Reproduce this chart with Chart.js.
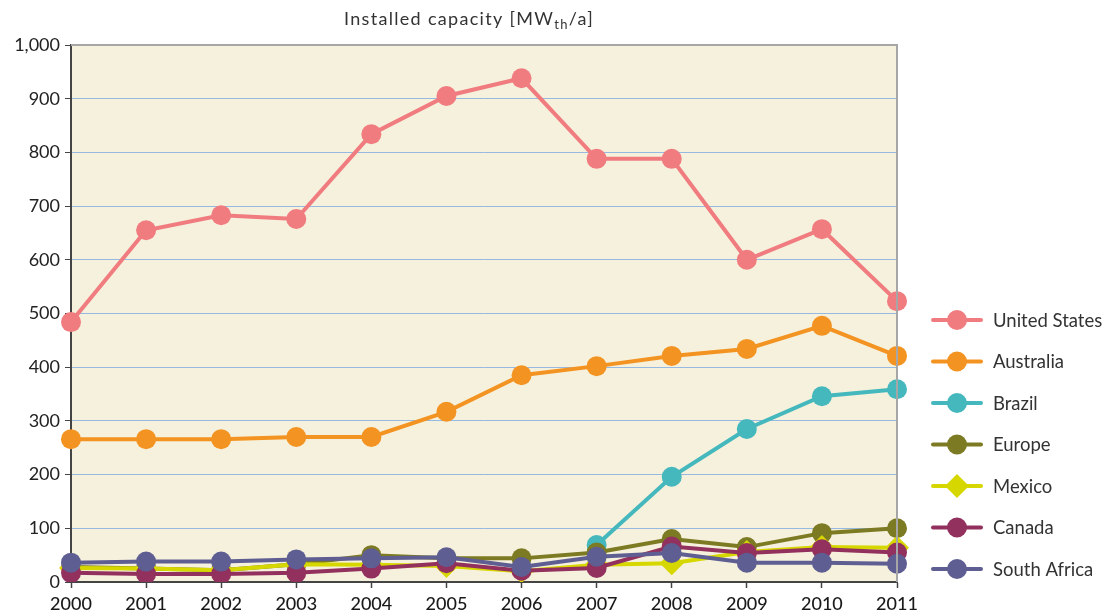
<!DOCTYPE html>
<html><head><meta charset="utf-8">
<script src="https://cdn.jsdelivr.net/npm/chart.js@4/dist/chart.umd.min.js"></script>
<style>html,body{margin:0;padding:0;background:#fff}#wrap{width:1112px;height:614px;position:relative}</style>
</head><body><div id="wrap"><canvas id="c"></canvas></div>
<script>
const years = ['2000','2001','2002','2003','2004','2005','2006','2007','2008','2009','2010','2011'];
const yTicks = [0,100,200,300,400,500,600,700,800,900,1000];
const seriesNames = ['United States','Australia','Brazil','Europe','Mexico','Canada','South Africa'];
const unitedStates = [484,655,683,676,834,905,938,788,788,600,657,523];
const australia = [266,266,266,270,270,317,385,402,421,434,477,421];
const brazil = [null,null,null,null,null,null,null,69,196,285,346,359];
const europe = [28,25,22,33,50,44,44,55,80,65,91,100];
const mexico = [26,25,22,33,32,30,20,32,35,56,65,64];
const canada = [17,15,15,17,25,35,21,26,66,54,61,55];
const southAfrica = [36,38,38,42,44,46,28,47,54,36,36,34];
const seriesData = [unitedStates,australia,brazil,europe,mexico,canada,southAfrica];
const colors = ['#F07C80','#F39322','#45B8BD','#7C7A22','#D7D700','#92305E','#5E5E93'];
const styles = ['circle','circle','circle','circle','rectRot','circle','circle'];
const FONT = 'Lato';

const datasets = seriesNames.map((n,i)=>({
  label:n, data:seriesData[i], borderColor:colors[i], backgroundColor:colors[i],
  borderWidth:4, pointRadius: styles[i]==='rectRot'?12:10, pointStyle:styles[i],
  pointBorderWidth:0, pointHoverRadius:10, tension:0, order: seriesNames.length-1-i, spanGaps:false
}));

const bgPlugin = {
  id:'bg',
  beforeDraw(chart){
    const {ctx, chartArea:a} = chart;
    ctx.save();
    ctx.fillStyle = '#F6F1DC';
    ctx.fillRect(a.left,a.top,a.right-a.left,a.bottom-a.top);
    ctx.restore();
  },
  afterDatasetsDraw(chart){
    const {ctx, chartArea:a} = chart;
    ctx.save();
    ctx.strokeStyle = '#A6A6A6'; ctx.lineWidth = 2;
    ctx.beginPath();
    ctx.moveTo(a.left,a.top); ctx.lineTo(a.right,a.top); ctx.lineTo(a.right,a.bottom);
    ctx.stroke();
    ctx.restore();
  },
  afterDraw(chart){
    const ctx = chart.ctx;
    ctx.save();
    // title with subscript
    ctx.fillStyle = '#333';
    ctx.textBaseline = 'alphabetic';
    ctx.letterSpacing = '1.3px';
    const big = '18px ' + FONT, small = '13px ' + FONT;
    const parts = [['Installed capacity [MW',big,0],['th',small,4],['/a]',big,0]];
    let total = 0;
    parts.forEach(p=>{ctx.font=p[1]; total += ctx.measureText(p[0]).width;});
    let x = 469 - total/2;
    parts.forEach(p=>{ctx.font=p[1]; ctx.fillText(p[0],x,25+p[2]); x += ctx.measureText(p[0]).width;});
    ctx.letterSpacing = '0px';
    // legend
    ctx.font = '18.5px ' + FONT;
    ctx.textBaseline = 'middle';
    seriesNames.forEach((n,i)=>{
      const y = 320 + i*41.5;
      ctx.strokeStyle = colors[i]; ctx.lineWidth = 4; ctx.lineCap='round';
      ctx.beginPath(); ctx.moveTo(933,y); ctx.lineTo(981,y); ctx.stroke();
      ctx.fillStyle = colors[i];
      ctx.beginPath();
      if(styles[i]==='rectRot'){
        ctx.moveTo(957,y-12); ctx.lineTo(969,y); ctx.lineTo(957,y+12); ctx.lineTo(945,y); ctx.closePath();
      } else { ctx.arc(957,y,10,0,Math.PI*2); }
      ctx.fill();
      ctx.fillStyle = '#333';
      ctx.fillText(n,993,y+1);
    });
    ctx.restore();
  }
};

new Chart(document.getElementById('c'),{
  type:'line',
  data:{labels:years, datasets},
  options:{
    responsive:true, maintainAspectRatio:false, animation:false,
    layout:{padding:{top:45,right:215,left:0,bottom:0}},
    plugins:{legend:{display:false}, tooltip:{enabled:false}, title:{display:false}},
    scales:{
      x:{
        offset:false,
        grid:{display:true, drawOnChartArea:false, tickLength:6, color:'#444', tickWidth:1.5},
        border:{color:'#444', width:2},
        ticks:{color:'#1a1a1a', font:{family:FONT, size:18, weight:'500'}, padding:5, maxRotation:0, autoSkip:false},
        afterFit(s){ s.height = 32; }
      },
      y:{
        min:0, max:1000,
        afterBuildTicks(s){ s.ticks = yTicks.map(v=>({value:v})); },
        grid:{color:'#95B9E0', lineWidth:1, tickLength:6, tickColor:'#444', drawTicks:true},
        border:{color:'#444', width:2},
        ticks:{color:'#222', font:{family:FONT, size:18}, padding:5,
          callback:(v)=>v.toLocaleString('en-US')},
        afterFit(s){ s.width = 71; }
      }
    }
  },
  plugins:[bgPlugin]
});
</script></body></html>
